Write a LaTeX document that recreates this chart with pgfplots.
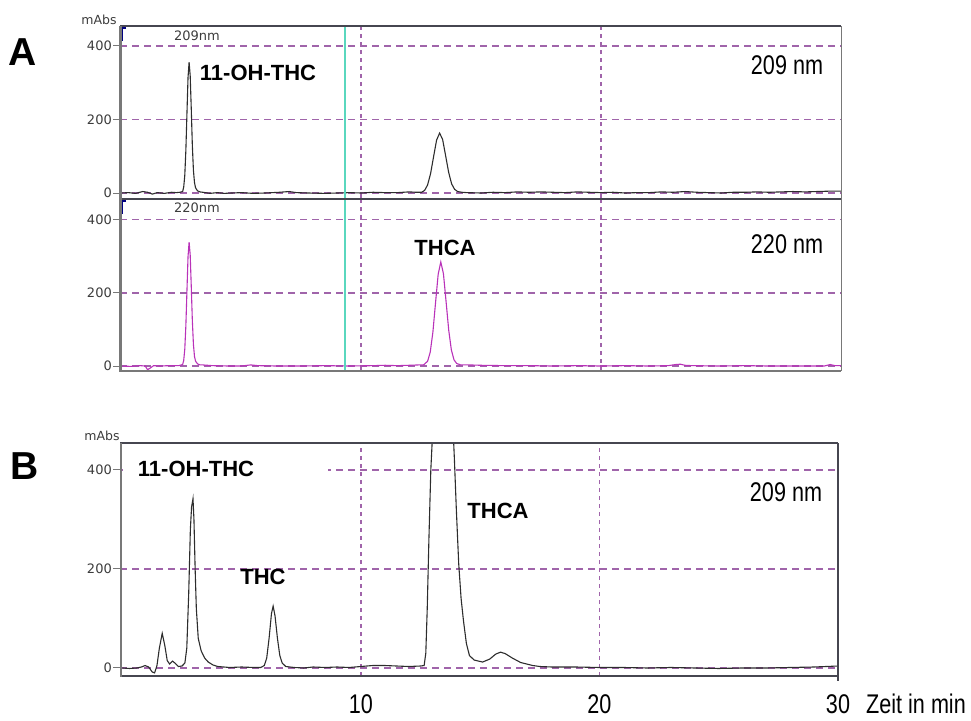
\documentclass[border=0pt]{standalone}
\usepackage{fontspec}
\setmainfont{Liberation Sans}
\newfontfamily\narrowfont[FakeStretch=0.8]{Liberation Sans}
\newfontfamily\dejavu{DejaVu Sans}
\usepackage{pgfplots}
\pgfplotsset{compat=1.18}
\definecolor{gridp}{RGB}{160,100,170}
\definecolor{curveb}{RGB}{45,45,45}
\definecolor{curvem}{RGB}{185,50,185}
\definecolor{cyanl}{RGB}{90,215,190}
\definecolor{framed}{RGB}{70,70,80}
\definecolor{framel}{RGB}{120,120,120}
\definecolor{lab}{RGB}{60,60,60}
\tikzset{
  gridh/.style={draw=gridp, line width=1.8pt, dash pattern=on 7pt off 5pt},
  gridv/.style={draw=gridp, line width=1.8pt, dash pattern=on 4pt off 4pt},
}
\newcommand{\hgrid}[1]{\draw[gridh] ({rel axis cs:0,0}|-{axis cs:0,#1}) -- ({rel axis cs:1,0}|-{axis cs:0,#1});}
\newcommand{\vgrid}[1]{\draw[gridv] ({axis cs:#1,0}|-{rel axis cs:0,0}) -- ({axis cs:#1,0}|-{rel axis cs:0,1});}
\pgfplotsset{
  chrom/.style={
    scale only axis, axis line style={draw=none},
    xmin=-0.05, xmax=30,
    ytick={0,200,400}, ytick pos=left, xtick pos=bottom,
    tick align=outside, major tick length=7pt,
    tick style={draw=framel, line width=1pt},
    /pgf/number format/assume math mode=true,
    yticklabel style={font=\dejavu\fontsize{13}{13}\selectfont, text=lab, inner sep=1pt},
  },
}
\begin{document}
\begin{tikzpicture}
\path[use as bounding box] (0pt,0pt) rectangle (971pt,-720pt);

% ---- Panel A, 209 nm
\begin{axis}[chrom, at={(120pt,-198pt)}, anchor=south west, width=721pt, height=172pt,
  ymin=-13.6, ymax=454.4, xtick=\empty]
\hgrid{0}\hgrid{200}\hgrid{400}\vgrid{10}\vgrid{20}
\addplot[curveb, line width=1.1pt] coordinates {
(0,0)(0.3,1)(0.6,-1)(0.9,4)(1.1,2)(1.3,-3)(1.5,1)(1.8,-1)(2.1,2)(2.3,1)(2.45,2)
(2.56,4)(2.605,16)(2.65,48)(2.695,116)(2.74,216)(2.785,314)(2.83,356)(2.875,320)(2.92,230)(2.965,130)(3.01,62)(3.055,28)(3.10,14)(3.18,6)(3.28,3)
(3.4,2)(3.7,-1)(4.0,1)(4.3,-1)(4.6,0)(5.0,1)(5.5,-1)(6.0,0)(6.6,2)(7.0,4)(7.3,1)(7.8,0)(8.5,-1)(9.0,0)(9.5,1)(10.0,0)(10.5,2)(11.0,1)(11.5,1)(12.0,3)(12.3,2)
(12.52,2)(12.645,7)(12.77,22)(12.895,53)(13.02,99)(13.145,144)(13.27,163)(13.395,146)(13.52,102)(13.645,57)(13.77,25)(13.895,10)(14.02,4)(14.2,2)
(14.4,1)(15.0,0)(15.5,2)(16.0,1)(16.5,3)(17.0,2)(17.5,3)(18.0,2)(18.5,1)(19.0,3)(19.5,2)(20.0,1)(20.5,2)(21.0,0)(21.5,1)(22.0,1)(22.5,3)(23.0,2)(23.5,4)(24.0,2)(24.5,1)(25.0,0)(25.5,2)(26.0,2)(26.5,3)(27.0,2)(27.5,3)(28.0,4)(28.5,3)(29.0,4)(29.5,5)(30,5)
};
\end{axis}

% ---- Panel A, 220 nm
\begin{axis}[chrom, at={(120pt,-371pt)}, anchor=south west, width=721pt, height=172pt,
  ymin=-13.6, ymax=455.7, xtick=\empty]
\hgrid{0}\hgrid{200}\hgrid{400}\vgrid{10}\vgrid{20}
\addplot[curvem, line width=1.1pt] coordinates {
(0,0)(0.4,-1)(0.8,1)(1.0,0)(1.1,-10)(1.2,-6)(1.35,1)(1.6,0)(2.0,1)(2.4,1)
(2.56,4)(2.605,15)(2.65,46)(2.695,110)(2.74,205)(2.785,298)(2.83,338)(2.875,304)(2.92,218)(2.965,124)(3.01,59)(3.055,26)(3.10,13)(3.18,6)(3.28,3)
(3.4,3)(3.8,1)(4.5,0)(5.0,0)(5.4,3)(5.7,1)(6.5,0)(7.5,0)(8.5,1)(9.5,0)(10.5,1)(11.0,2)(11.5,1)(12.0,2)(12.4,3)
(12.6,3)(12.77,13)(12.88,38)(12.99,92)(13.10,172)(13.21,250)(13.32,284)(13.43,252)(13.54,176)(13.65,98)(13.76,44)(13.87,17)(13.98,7)(14.15,3)
(14.5,3)(15,2)(16,1)(17,1)(18,0)(19,1)(20,0)(21,1)(22,0)(22.8,1)(23.1,4)(23.3,5)(23.5,2)(23.8,1)(25,0)(26,1)(27,0)(28,0)(29.3,0)(29.55,4)(29.75,1)(30,1)
};
\end{axis}

% ---- Panel B
\begin{axis}[chrom, at={(120pt,-676pt)}, anchor=south west, width=718pt, height=233pt,
  xmin=-0.1, xmax=30, ymin=-16.2, ymax=454.5,
  xtick={10,20,30},
  xticklabel style={font=\narrowfont\fontsize{27}{27}\selectfont, text=black, yshift=-8pt},
  xtick style={draw=none}]
\hgrid{0}\hgrid{200}\hgrid{400}\vgrid{10}\vgrid{20}
\addplot[curveb, line width=1.1pt] coordinates {
(0,0)(0.3,-1)(0.6,0)(0.8,2)(0.95,5)(1.1,2)(1.25,-8)(1.35,-10)(1.45,5)(1.55,40)(1.67,70)(1.78,45)(1.88,15)(1.98,8)(2.1,14)(2.2,10)(2.35,3)(2.5,4)(2.62,10)
(2.7,40)(2.78,150)(2.85,280)(2.9,325)(2.96,342)(3.0,300)(3.05,200)(3.1,120)(3.18,60)(3.3,35)(3.45,20)(3.6,12)(3.8,6)(4.0,3)(4.5,1)(5.0,2)(5.5,1)(5.8,1)
(5.95,5)(6.05,20)(6.15,60)(6.25,110)(6.32,125)(6.4,105)(6.5,60)(6.6,25)(6.7,10)(6.85,3)(7.2,1)(7.6,0)(8,2)(8.5,1)(9,2)(9.5,1)(10,3)(10.5,5)(11,5)(11.5,4)(12,3)(12.5,4)(12.65,5)
(12.72,30)(12.78,120)(12.85,260)(12.93,400)(13.05,520)(13.45,600)(13.83,520)(13.92,420)(14.0,320)(14.1,210)(14.2,140)(14.3,95)(14.42,50)(14.55,25)(14.75,16)(15.1,12)(15.4,18)(15.65,28)(15.85,32)(16.05,29)(16.35,20)(16.7,11)(17.2,5)
(17.5,3)(18,2)(19,2)(20,1)(21,1)(22,0)(23,1)(24,0)(25,-1)(26,0)(27,0)(28,1)(29,2)(29.5,3)(30,4)
};
\end{axis}

\begin{scope}[x=1pt,y=1pt]
% white masks over the grid (label boxes)
\fill[white] (122,-27) rectangle (172,-45);
\fill[white] (122,-200) rectangle (172,-218);
\fill[white] (123,-444) rectangle (328,-484);

% cyan marker line in panel A
\draw[cyanl, line width=1.2pt] (345,-26) -- (345,-371);

% frames
\draw[framed, line width=1.5pt] (120,-26) -- (841,-26);
\draw[framel, line width=1pt] (841,-26) -- (841,-371);
\draw[framed, line width=2pt] (120,-198.5) -- (841,-198.5);
\draw[framel, line width=1.5pt] (120,-371) -- (841,-371);
\draw[framel, line width=3pt] (120,-26) -- (120,-372);
\draw[framed, line width=1.5pt] (120,-443) -- (838,-443);
\draw[framed, line width=1.5pt] (838,-443) -- (838,-681);
\draw[framed, line width=1.5pt] (120,-676) -- (838,-676);
\draw[framel, line width=2.5pt] (121,-443) -- (121,-677);
% small blue brackets
\draw[blue!50!black, line width=1.5pt] (126,-28) -- (122.5,-28) -- (122.5,-41);
\draw[blue!50!black, line width=1.5pt] (126,-201) -- (122.5,-201) -- (122.5,-214);

% texts
\node[font=\bfseries\fontsize{39}{39}\selectfont] at (23,-52) {A};
\node[font=\bfseries\fontsize{39}{39}\selectfont] at (25,-466) {B};
\node[font=\dejavu\fontsize{12.5}{12.5}\selectfont, text=lab] at (99,-20) {mAbs};
\node[font=\dejavu\fontsize{12.5}{12.5}\selectfont, text=lab] at (102,-436) {mAbs};
\node[font=\dejavu\fontsize{13}{13}\selectfont, text=lab] at (197,-36) {209nm};
\node[font=\dejavu\fontsize{13}{13}\selectfont, text=lab] at (197,-208) {220nm};
\node[font=\bfseries\fontsize{22}{22}\selectfont] at (258,-73) {11-OH-THC};
\node[font=\bfseries\fontsize{22}{22}\selectfont] at (445,-248) {THCA};
\node[font=\bfseries\fontsize{22}{22}\selectfont] at (196,-469) {11-OH-THC};
\node[font=\bfseries\fontsize{22}{22}\selectfont] at (263,-577) {THC};
\node[font=\bfseries\fontsize{22}{22}\selectfont] at (498,-511) {THCA};
\node[font=\narrowfont\fontsize{27}{27}\selectfont] at (787,-65) {209 nm};
\node[font=\narrowfont\fontsize{27}{27}\selectfont] at (787,-244) {220 nm};
\node[font=\narrowfont\fontsize{27}{27}\selectfont] at (786,-492) {209 nm};
\node[font=\narrowfont\fontsize{27}{27}\selectfont] at (916,-704) {Zeit in min};
\end{scope}
\end{tikzpicture}
\end{document}
